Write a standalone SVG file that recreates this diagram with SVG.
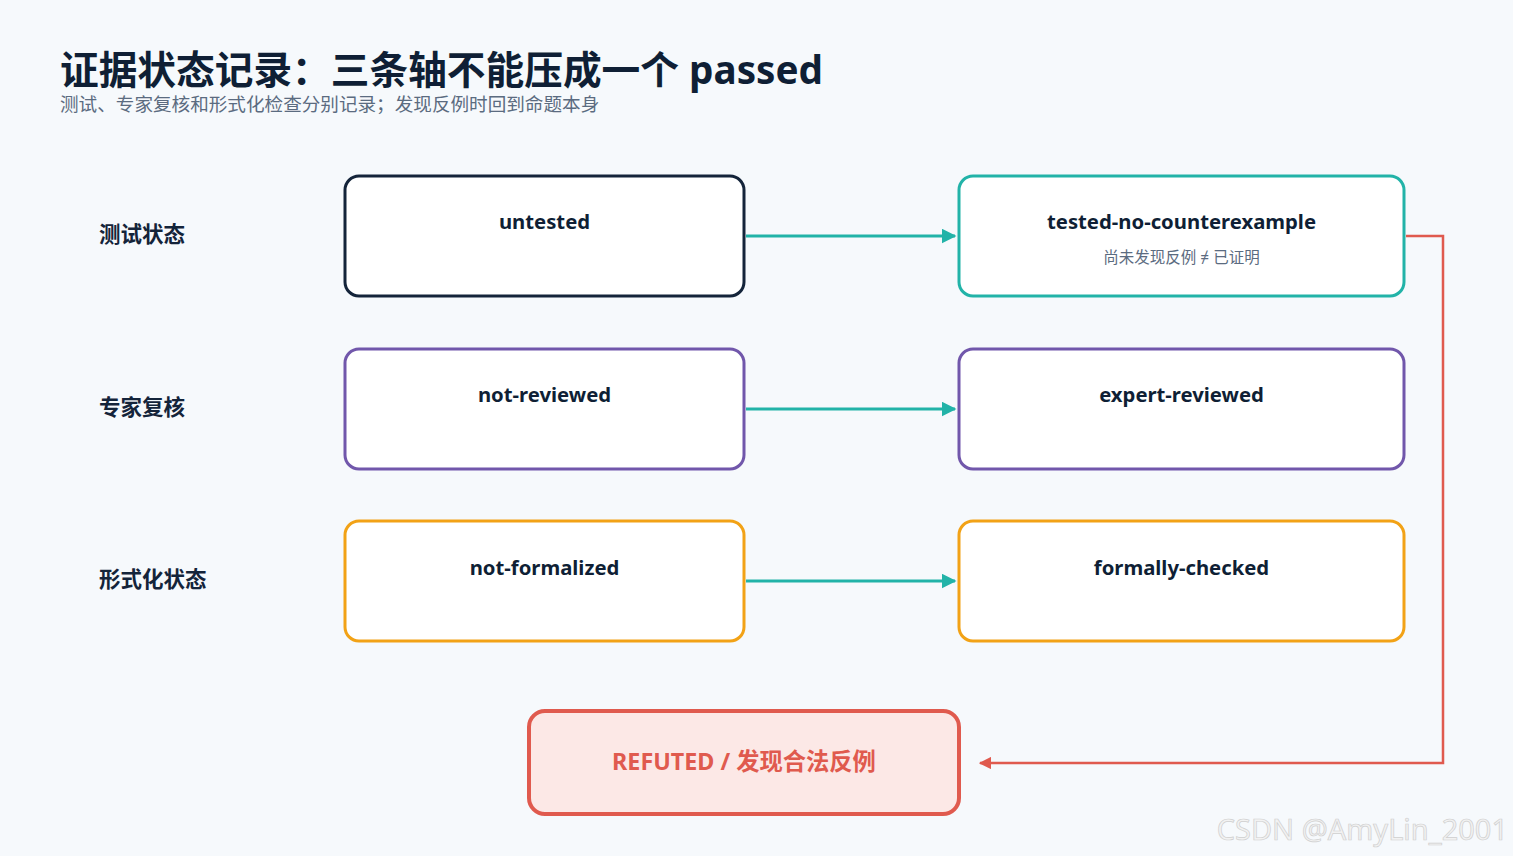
<svg xmlns="http://www.w3.org/2000/svg" width="1513" height="856" viewBox="0 0 1513 856">
<style>
text{font-family:"Noto Sans","Noto Sans CJK SC",sans-serif}
.title{font-size:38.7px;font-weight:700;fill:#0f1f35}
.sub{font-size:18.6px;fill:#5b6b80}
.row{font-size:21.5px;font-weight:700;fill:#14243a}
.box{fill:#ffffff;stroke-width:3}
.lbl{font-size:20.3px;font-weight:700;fill:#0f1f35;text-anchor:middle}
.note{font-size:15.5px;fill:#5b6b80;text-anchor:middle}
.teal{stroke:#22b3a8;stroke-width:3;fill:none}
.red{stroke:#e05a4e;stroke-width:2.5;fill:none}
</style>
<defs>
<marker id="at" viewBox="0 0 10 10" refX="9" refY="5" markerWidth="5" markerHeight="5" orient="auto" markerUnits="strokeWidth"><path d="M0,0 L10,5 L0,10 z" fill="#22b3a8"/></marker>
<marker id="ar" viewBox="0 0 10 10" refX="9" refY="5" markerWidth="5" markerHeight="5" orient="auto" markerUnits="strokeWidth"><path d="M0,0 L10,5 L0,10 z" fill="#e05a4e"/></marker>
</defs>
<rect width="1513" height="856" fill="#f6f9fc"/>
<text class="title" x="60" y="84">证据状态记录：三条轴不能压成一个 passed</text>
<text class="sub" x="60" y="111">测试、专家复核和形式化检查分别记录；发现反例时回到命题本身</text>
<g id="row-labels">
<text class="row" x="99" y="242">测试状态</text>
<text class="row" x="99" y="415">专家复核</text>
<text class="row" x="99" y="587">形式化状态</text>
</g>
<g id="untested"><rect class="box" x="345" y="176" width="399" height="120" rx="14" stroke="#14243a"/><text class="lbl" x="544.5" y="229">untested</text></g>
<g id="tested"><rect class="box" x="959" y="176" width="445" height="120" rx="14" stroke="#22b3a8"/><text class="lbl" x="1181.5" y="229">tested-no-counterexample</text><text class="note" x="1181.5" y="263">尚未发现反例 ≠ 已证明</text></g>
<g id="not-reviewed"><rect class="box" x="345" y="349" width="399" height="120" rx="14" stroke="#7157ab"/><text class="lbl" x="544.5" y="402">not-reviewed</text></g>
<g id="expert-reviewed"><rect class="box" x="959" y="349" width="445" height="120" rx="14" stroke="#7157ab"/><text class="lbl" x="1181.5" y="402">expert-reviewed</text></g>
<g id="not-formalized"><rect class="box" x="345" y="521" width="399" height="120" rx="14" stroke="#f2a216"/><text class="lbl" x="544.5" y="575">not-formalized</text></g>
<g id="formally-checked"><rect class="box" x="959" y="521" width="445" height="120" rx="14" stroke="#f2a216"/><text class="lbl" x="1181.5" y="575">formally-checked</text></g>
<g id="refuted"><rect x="529" y="711" width="430" height="103" rx="16" fill="#fce8e6" stroke="#e05a4e" stroke-width="4"/><text x="744" y="770" font-size="23.3" font-weight="700" fill="#e05a4e" text-anchor="middle">REFUTED / 发现合法反例</text></g>
<g id="connectors">
<line class="teal" x1="746" y1="236" x2="955" y2="236" marker-end="url(#at)"/>
<line class="teal" x1="746" y1="409" x2="955" y2="409" marker-end="url(#at)"/>
<line class="teal" x1="746" y1="581" x2="955" y2="581" marker-end="url(#at)"/>
<polyline class="red" points="1406,236 1443,236 1443,763 980,763" marker-end="url(#ar)"/>
</g>
<text x="1508" y="840" font-family="'Liberation Sans',sans-serif" font-size="29" fill="#f2f2f2" stroke="#cfcfcf" stroke-width="0.7" text-anchor="end">CSDN @AmyLin_2001</text>
</svg>
